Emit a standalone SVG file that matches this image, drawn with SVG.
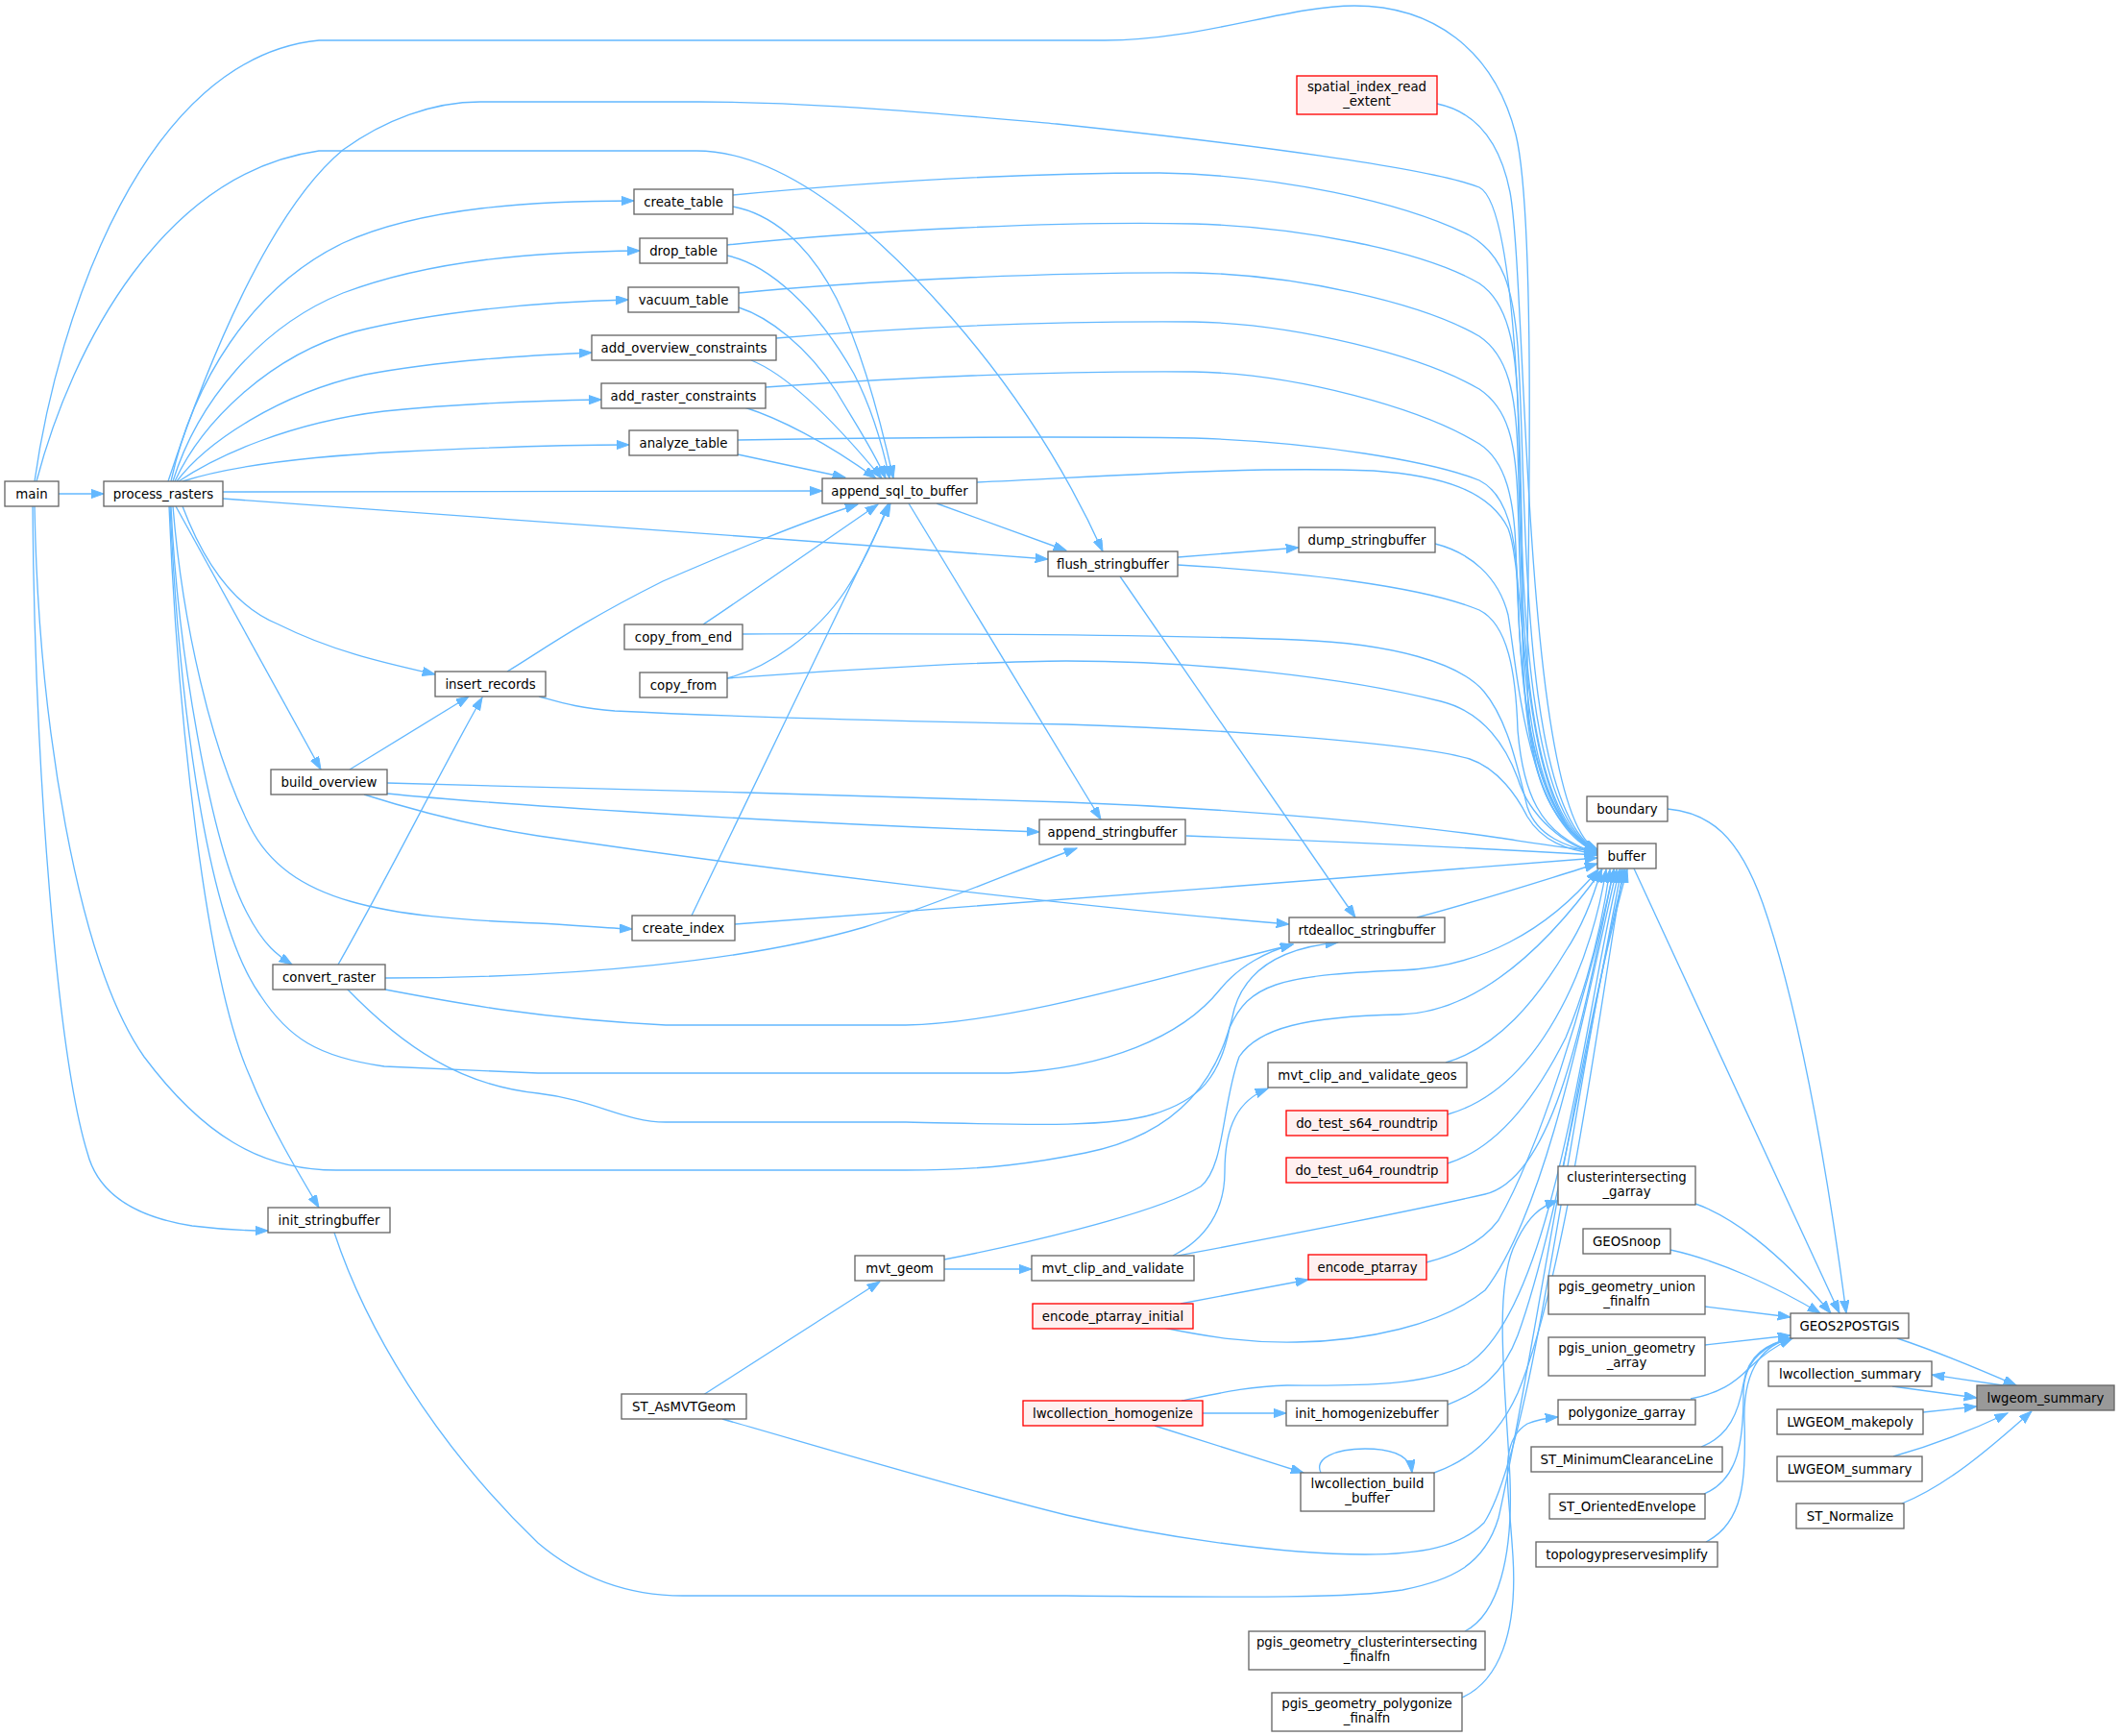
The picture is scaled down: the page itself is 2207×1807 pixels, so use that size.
<svg xmlns="http://www.w3.org/2000/svg" width="2207" height="1807" viewBox="0 0 2207 1807">
<defs>
<style>
.n rect{fill:#ffffff;stroke:#666666;stroke-width:1.33}
.r rect{fill:#fff0f0;stroke:#ff0000;stroke-width:1.33}
.h rect{fill:#999999;stroke:#666666;stroke-width:1.33}
text{font-family:"DejaVu Sans","Liberation Sans",sans-serif;font-size:13.33px;text-anchor:middle;fill:#000000}
.e path{fill:none;stroke:#63b8ff;stroke-width:1.33;marker-end:url(#a)}
</style>
<marker id="a" markerWidth="14" markerHeight="10" refX="13.3" refY="4.7" orient="auto" markerUnits="userSpaceOnUse">
<path d="M0,0 L13.3,4.7 L0,9.4 z" fill="#63b8ff" stroke="#63b8ff" stroke-width="1"/>
</marker>
</defs>
<rect width="2207" height="1807" fill="#ffffff"/>
<g id="edges" class="e">
<path d="M61,514 L108,514"/>
<path d="M36,501 C60,330 150,60 332,42 L1150,42 C1250,42 1340,6 1410,6 C1490,6 1555,50 1578,140 C1600,230 1590,600 1590,700 C1590,800 1610,860 1663,884"/>
<path d="M175,501 C215,380 280,220 357,156 C400,125 450,106 500,106 L728,106 C850,106 1000,120 1100,129 C1300,150 1490,175 1540,195 C1580,215 1585,500 1585,650 C1585,800 1610,860 1663,885"/>
<path d="M38,501 C75,360 170,180 332,157 L725,157 C820,157 920,250 990,330 C1060,410 1110,490 1148,574"/>
<path d="M178,501 C200,400 260,300 357,253 C440,215 560,209 660,209"/>
<path d="M180,501 C205,420 270,340 357,305 C450,270 560,262 666,261"/>
<path d="M182,501 C210,440 280,370 370,345 C450,325 560,314 654,312"/>
<path d="M184,501 C215,460 290,410 380,390 C460,375 550,370 616,367"/>
<path d="M186,501 C225,475 300,440 400,428 C480,420 560,417 626,416"/>
<path d="M190,501 C240,485 320,475 420,470 C500,466 580,463 655,463"/>
<path d="M232,512 L856,511"/>
<path d="M232,519 C500,537 800,560 1091,582"/>
<path d="M190,527 C210,580 240,630 290,650 C350,680 410,692 453,702"/>
<path d="M183,527 L334,801"/>
<path d="M178,527 C185,680 220,880 257,950 C275,985 290,995 304,1004"/>
<path d="M180,527 C190,650 220,780 260,860 C300,940 400,955 560,961 C600,963 630,966 658,967"/>
<path d="M177,527 C185,700 210,950 271,1036 C300,1080 330,1100 400,1110 L560,1117 L1050,1117 C1150,1112 1230,1080 1270,1030 C1290,1005 1320,990 1346,983"/>
<path d="M176,527 C185,750 215,1020 260,1120 C280,1170 310,1220 332,1257"/>
<path d="M36,527 C40,750 80,1000 150,1100 C210,1180 270,1218 350,1218 L943,1218 C1030,1218 1080,1210 1130,1200 C1230,1180 1270,1120 1285,1050 C1300,1000 1350,985 1393,981"/>
<path d="M34,527 C36,800 60,1100 91,1200 C100,1235 130,1265 200,1276 C240,1281 260,1281 279,1281"/>
<path d="M763,215 C800,222 840,250 871,311 C895,360 915,430 930,498"/>
<path d="M757,266 C800,275 850,320 889,389 C905,420 918,460 926,498"/>
<path d="M769,320 C800,330 840,360 871,408 C890,440 910,470 922,498"/>
<path d="M782,375 C820,390 870,440 918,498"/>
<path d="M775,424 C810,435 860,460 912,498"/>
<path d="M768,473 L880,497"/>
<path d="M528,699 C560,680 600,650 690,605 C760,575 830,545 893,525"/>
<path d="M732,650 C770,625 870,555 914,525"/>
<path d="M757,706 C800,695 850,660 880,615 C900,585 915,550 925,524"/>
<path d="M720,953 C780,830 870,640 927,524"/>
<path d="M975,524 L1110,573"/>
<path d="M946,524 L1146,853"/>
<path d="M1017,502 C1150,496 1300,485 1430,490 C1500,495 1550,510 1570,550 C1590,600 1580,855 1663,887"/>
<path d="M763,203 C900,190 1050,180 1207,180 C1330,182 1460,210 1530,245 C1565,265 1575,300 1580,360 C1590,500 1580,840 1663,886"/>
<path d="M757,255 C900,240 1100,230 1243,233 C1350,236 1480,260 1540,295 C1570,315 1578,360 1580,420 C1585,550 1580,845 1663,886"/>
<path d="M769,305 C900,292 1100,283 1243,284 C1350,286 1480,315 1540,350 C1570,370 1578,410 1580,470 C1585,600 1580,848 1663,886"/>
<path d="M808,352 C950,340 1100,334 1243,335 C1350,337 1480,370 1540,405 C1570,425 1578,460 1580,520 C1585,650 1580,850 1663,886"/>
<path d="M797,403 C950,392 1100,386 1243,387 C1350,389 1480,425 1540,462 C1568,480 1576,520 1578,570 C1582,680 1585,850 1663,886"/>
<path d="M768,458 C950,455 1100,454 1243,456 C1370,460 1490,480 1540,500 C1570,515 1578,560 1580,610 C1582,700 1590,855 1663,886"/>
<path d="M1496,108 C1530,115 1560,140 1572,200 C1590,300 1585,850 1663,885"/>
<path d="M1494,566 C1530,575 1560,600 1570,640 C1580,700 1590,860 1663,887"/>
<path d="M1226,580 L1352,570"/>
<path d="M1226,588 C1350,595 1480,610 1540,635 C1570,650 1578,700 1580,760 C1585,820 1600,870 1663,888"/>
<path d="M1166,600 L1411,955"/>
<path d="M773,660 C900,659 1200,660 1350,666 C1450,670 1520,690 1545,720 C1570,750 1580,800 1590,840 C1600,870 1630,882 1663,888"/>
<path d="M757,706 C900,695 1050,688 1110,688 C1250,688 1400,705 1500,730 C1540,740 1565,770 1580,810 C1592,850 1630,882 1663,888"/>
<path d="M561,725 C580,730 600,737 640,740 C800,748 1000,752 1110,754 C1300,760 1480,775 1530,790 C1560,800 1580,830 1590,850 C1605,875 1630,885 1663,889"/>
<path d="M403,815 C600,820 900,828 1110,835 C1300,842 1480,860 1560,872 C1600,878 1630,883 1663,886"/>
<path d="M403,826 C500,836 800,856 1082,866"/>
<path d="M379,827 C420,840 480,858 560,870 C800,905 1100,942 1342,962"/>
<path d="M1235,870 C1400,876 1560,884 1663,890"/>
<path d="M765,962 C950,947 1400,915 1663,893"/>
<path d="M352,1004 C400,920 460,800 502,726"/>
<path d="M364,801 L488,725"/>
<path d="M401,1018 C600,1018 780,1000 900,965 C980,940 1060,905 1121,883"/>
<path d="M401,1030 C480,1045 560,1060 693,1067 L943,1067 C1050,1065 1200,1020 1346,983"/>
<path d="M361,1029 C420,1090 480,1130 560,1138 C620,1145 650,1168 693,1168 L943,1168 C1050,1170 1150,1175 1200,1160 C1250,1145 1270,1120 1280,1070 C1300,1025 1330,1015 1457,1010 C1540,1007 1610,970 1664,905"/>
<path d="M1475,955 C1550,935 1610,915 1663,899"/>
<path d="M348,1283 C380,1380 450,1500 560,1606 C600,1640 650,1661 711,1661 L1110,1661 C1250,1662 1400,1665 1460,1655 C1510,1645 1545,1630 1560,1580 C1590,1450 1640,1100 1694,905"/>
<path d="M732,1452 L916,1334"/>
<path d="M752,1477 C850,1505 1000,1550 1110,1577 C1200,1598 1330,1618 1421,1618 C1480,1618 1520,1610 1545,1585 C1600,1500 1640,1100 1692,905"/>
<path d="M983,1321 L1074,1321"/>
<path d="M983,1311 C1050,1298 1200,1265 1250,1235 C1275,1215 1272,1150 1290,1100 C1310,1070 1360,1058 1457,1056 C1530,1054 1600,1000 1668,905"/>
<path d="M1221,1307 C1255,1290 1275,1260 1275,1220 C1275,1170 1290,1145 1320,1133"/>
<path d="M1221,1308 C1300,1293 1450,1265 1546,1243 C1620,1225 1650,1050 1680,905"/>
<path d="M1505,1106 C1560,1090 1600,1040 1630,990 C1650,960 1660,930 1667,905"/>
<path d="M1507,1160 C1560,1145 1600,1100 1630,1040 C1650,1000 1665,950 1672,905"/>
<path d="M1507,1211 C1560,1195 1600,1140 1630,1080 C1655,1020 1668,960 1676,905"/>
<path d="M1229,1357 L1362,1332"/>
<path d="M1485,1314 C1520,1305 1545,1290 1560,1270 C1600,1200 1650,1050 1680,905"/>
<path d="M1211,1382 C1260,1392 1300,1398 1350,1397 C1420,1396 1500,1380 1546,1343 C1610,1260 1650,1050 1683,905"/>
<path d="M1252,1471 L1339,1471"/>
<path d="M1202,1484 L1357,1533"/>
<path d="M1230,1458 C1270,1450 1300,1443 1340,1442 C1400,1442 1480,1445 1528,1420 C1620,1360 1650,1050 1686,905"/>
<path d="M1507,1462 C1540,1450 1565,1430 1580,1390 C1620,1280 1660,1050 1688,905"/>
<path d="M1375,1533 C1368,1518 1390,1508 1421,1508 C1450,1508 1468,1515 1470,1533"/>
<path d="M1493,1533 C1530,1520 1560,1495 1580,1450 C1630,1330 1665,1050 1690,905"/>
<path d="M1525,1698 C1560,1680 1575,1620 1572,1540 C1568,1450 1555,1350 1575,1300 C1590,1265 1605,1255 1622,1250"/>
<path d="M1522,1767 C1560,1750 1580,1700 1575,1620 C1570,1540 1560,1500 1590,1482 C1600,1478 1610,1476 1622,1475"/>
<path d="M1736,842 C1780,846 1810,870 1835,940 C1870,1040 1900,1200 1922,1367"/>
<path d="M1701,904 L1915,1367"/>
<path d="M1765,1253 C1800,1265 1850,1300 1906,1367"/>
<path d="M1739,1301 C1790,1312 1850,1340 1895,1367"/>
<path d="M1775,1360 L1864,1371"/>
<path d="M1775,1400 L1864,1390"/>
<path d="M1760,1456 C1790,1450 1805,1440 1820,1425 C1835,1410 1850,1400 1866,1393"/>
<path d="M1771,1506 C1800,1495 1810,1470 1815,1440 C1820,1410 1840,1398 1866,1393"/>
<path d="M1774,1555 C1810,1540 1815,1500 1815,1450 C1815,1415 1840,1398 1866,1393"/>
<path d="M1776,1605 C1815,1585 1818,1540 1816,1480 C1814,1420 1840,1398 1866,1393"/>
<path d="M1975,1393 C2020,1408 2060,1425 2099,1442"/>
<path d="M2085,1442 L2011,1431"/>
<path d="M1970,1443 L2058,1455"/>
<path d="M2002,1470 L2058,1464"/>
<path d="M1971,1516 C2010,1505 2050,1490 2090,1471"/>
<path d="M1980,1565 C2030,1545 2080,1500 2115,1469"/>
</g>
<g id="node-main" class="n"><rect x="5" y="501" width="56" height="26"/><text x="33" y="518.5">main</text></g>
<g id="node-process_rasters" class="n"><rect x="108" y="501" width="124" height="26"/><text x="170" y="518.5">process_rasters</text></g>
<g id="node-create_table" class="n"><rect x="660" y="197" width="103" height="26"/><text x="711.5" y="214.5">create_table</text></g>
<g id="node-drop_table" class="n"><rect x="666" y="248" width="91" height="26"/><text x="711.5" y="265.5">drop_table</text></g>
<g id="node-vacuum_table" class="n"><rect x="654" y="299" width="115" height="26"/><text x="711.5" y="316.5">vacuum_table</text></g>
<g id="node-add_overview_constraints" class="n"><rect x="616" y="349" width="192" height="26"/><text x="712" y="366.5">add_overview_constraints</text></g>
<g id="node-add_raster_constraints" class="n"><rect x="626" y="399" width="171" height="26"/><text x="711.5" y="416.5">add_raster_constraints</text></g>
<g id="node-analyze_table" class="n"><rect x="655" y="448" width="113" height="26"/><text x="711.5" y="465.5">analyze_table</text></g>
<g id="node-append_sql_to_buffer" class="n"><rect x="856" y="498" width="161" height="26"/><text x="936.5" y="515.5">append_sql_to_buffer</text></g>
<g id="node-flush_stringbuffer" class="n"><rect x="1091" y="574" width="135" height="26"/><text x="1158.5" y="591.5">flush_stringbuffer</text></g>
<g id="node-spatial_index_read_extent" class="r"><rect x="1350" y="79" width="146" height="40"/><text x="1423" y="95">spatial_index_read</text><text x="1423" y="110">_extent</text></g>
<g id="node-dump_stringbuffer" class="n"><rect x="1352" y="549" width="142" height="26"/><text x="1423" y="566.5">dump_stringbuffer</text></g>
<g id="node-boundary" class="n"><rect x="1652" y="829" width="84" height="26"/><text x="1694" y="846.5">boundary</text></g>
<g id="node-buffer" class="n"><rect x="1663" y="878" width="61" height="26"/><text x="1693.5" y="895.5">buffer</text></g>
<g id="node-insert_records" class="n"><rect x="453" y="699" width="115" height="26"/><text x="510.5" y="716.5">insert_records</text></g>
<g id="node-build_overview" class="n"><rect x="282" y="801" width="121" height="26"/><text x="342.5" y="818.5">build_overview</text></g>
<g id="node-convert_raster" class="n"><rect x="284" y="1004" width="117" height="26"/><text x="342.5" y="1021.5">convert_raster</text></g>
<g id="node-copy_from_end" class="n"><rect x="650" y="650" width="123" height="26"/><text x="711.5" y="667.5">copy_from_end</text></g>
<g id="node-copy_from" class="n"><rect x="666" y="700" width="91" height="26"/><text x="711.5" y="717.5">copy_from</text></g>
<g id="node-create_index" class="n"><rect x="658" y="953" width="107" height="26"/><text x="711.5" y="970.5">create_index</text></g>
<g id="node-append_stringbuffer" class="n"><rect x="1082" y="853" width="152" height="26"/><text x="1158" y="870.5">append_stringbuffer</text></g>
<g id="node-rtdealloc_stringbuffer" class="n"><rect x="1342" y="955" width="162" height="26"/><text x="1423" y="972.5">rtdealloc_stringbuffer</text></g>
<g id="node-mvt_clip_and_validate_geos" class="n"><rect x="1320" y="1106" width="207" height="26"/><text x="1423.5" y="1123.5">mvt_clip_and_validate_geos</text></g>
<g id="node-do_test_s64_roundtrip" class="r"><rect x="1339" y="1156" width="168" height="26"/><text x="1423" y="1173.5">do_test_s64_roundtrip</text></g>
<g id="node-do_test_u64_roundtrip" class="r"><rect x="1339" y="1205" width="168" height="26"/><text x="1423" y="1222.5">do_test_u64_roundtrip</text></g>
<g id="node-mvt_clip_and_validate" class="n"><rect x="1074" y="1307" width="169" height="26"/><text x="1158.5" y="1324.5">mvt_clip_and_validate</text></g>
<g id="node-encode_ptarray" class="r"><rect x="1362" y="1306" width="123" height="26"/><text x="1423.5" y="1323.5">encode_ptarray</text></g>
<g id="node-encode_ptarray_initial" class="r"><rect x="1075" y="1357" width="167" height="26"/><text x="1158.5" y="1374.5">encode_ptarray_initial</text></g>
<g id="node-lwcollection_homogenize" class="r"><rect x="1065" y="1458" width="187" height="26"/><text x="1158.5" y="1475.5">lwcollection_homogenize</text></g>
<g id="node-init_homogenizebuffer" class="n"><rect x="1339" y="1458" width="168" height="26"/><text x="1423" y="1475.5">init_homogenizebuffer</text></g>
<g id="node-lwcollection_build_buffer" class="n"><rect x="1354" y="1533" width="139" height="40"/><text x="1423.5" y="1549">lwcollection_build</text><text x="1423.5" y="1564">_buffer</text></g>
<g id="node-pgis_geometry_clusterintersecting_finalfn" class="n"><rect x="1300" y="1698" width="246" height="40"/><text x="1423" y="1714">pgis_geometry_clusterintersecting</text><text x="1423" y="1729">_finalfn</text></g>
<g id="node-pgis_geometry_polygonize_finalfn" class="n"><rect x="1324" y="1762" width="198" height="40"/><text x="1423" y="1778">pgis_geometry_polygonize</text><text x="1423" y="1793">_finalfn</text></g>
<g id="node-clusterintersecting_garray" class="n"><rect x="1622" y="1214" width="143" height="40"/><text x="1693.5" y="1230">clusterintersecting</text><text x="1693.5" y="1245">_garray</text></g>
<g id="node-GEOSnoop" class="n"><rect x="1648" y="1279" width="91" height="26"/><text x="1693.5" y="1296.5">GEOSnoop</text></g>
<g id="node-pgis_geometry_union_finalfn" class="n"><rect x="1612" y="1328" width="163" height="40"/><text x="1693.5" y="1344">pgis_geometry_union</text><text x="1693.5" y="1359">_finalfn</text></g>
<g id="node-pgis_union_geometry_array" class="n"><rect x="1612" y="1392" width="163" height="40"/><text x="1693.5" y="1408">pgis_union_geometry</text><text x="1693.5" y="1423">_array</text></g>
<g id="node-polygonize_garray" class="n"><rect x="1622" y="1457" width="143" height="26"/><text x="1693.5" y="1474.5">polygonize_garray</text></g>
<g id="node-ST_MinimumClearanceLine" class="n"><rect x="1594" y="1506" width="199" height="26"/><text x="1693.5" y="1523.5">ST_MinimumClearanceLine</text></g>
<g id="node-ST_OrientedEnvelope" class="n"><rect x="1613" y="1555" width="162" height="26"/><text x="1694" y="1572.5">ST_OrientedEnvelope</text></g>
<g id="node-topologypreservesimplify" class="n"><rect x="1599" y="1605" width="189" height="26"/><text x="1693.5" y="1622.5">topologypreservesimplify</text></g>
<g id="node-GEOS2POSTGIS" class="n"><rect x="1864" y="1367" width="123" height="26"/><text x="1925.5" y="1384.5">GEOS2POSTGIS</text></g>
<g id="node-lwcollection_summary" class="n"><rect x="1841" y="1417" width="170" height="26"/><text x="1926" y="1434.5">lwcollection_summary</text></g>
<g id="node-lwgeom_summary" class="h"><rect x="2058" y="1442" width="143" height="26"/><text x="2129.5" y="1459.5">lwgeom_summary</text></g>
<g id="node-LWGEOM_makepoly" class="n"><rect x="1850" y="1467" width="152" height="26"/><text x="1926" y="1484.5">LWGEOM_makepoly</text></g>
<g id="node-LWGEOM_summary" class="n"><rect x="1850" y="1516" width="151" height="26"/><text x="1925.5" y="1533.5">LWGEOM_summary</text></g>
<g id="node-ST_Normalize" class="n"><rect x="1870" y="1565" width="112" height="26"/><text x="1926" y="1582.5">ST_Normalize</text></g>
<g id="node-init_stringbuffer" class="n"><rect x="279" y="1257" width="127" height="26"/><text x="342.5" y="1274.5">init_stringbuffer</text></g>
<g id="node-mvt_geom" class="n"><rect x="890" y="1307" width="93" height="26"/><text x="936.5" y="1324.5">mvt_geom</text></g>
<g id="node-ST_AsMVTGeom" class="n"><rect x="647" y="1451" width="130" height="26"/><text x="712" y="1468.5">ST_AsMVTGeom</text></g>
</svg>
